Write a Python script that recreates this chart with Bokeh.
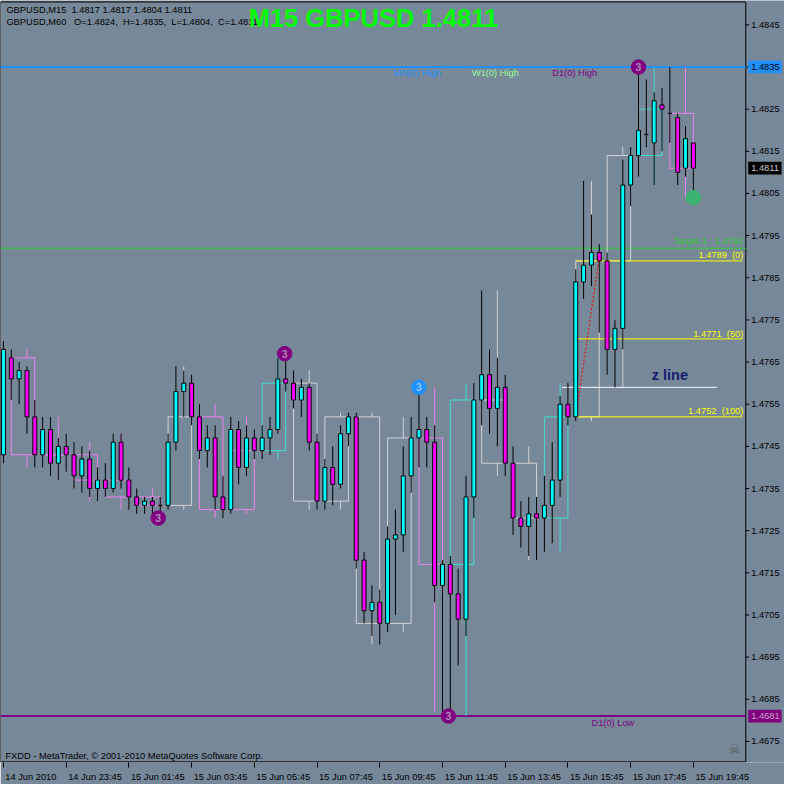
from bokeh.plotting import figure
from bokeh.models import Range1d, LinearAxis, FixedTicker, Label, ColumnDataSource
from bokeh.core.properties import value
from bokeh.embed import file_html
from bokeh.resources import INLINE

# ---------------- data ----------------
# M15 bars, index 0 = 14 Jun 21:45 ... index 88 = 15 Jun 19:45
m15_open = [1.4743, 1.4766, 1.4761, 1.4763, 1.4752, 1.4743, 1.4749, 1.4741, 1.4745, 1.4743,
            1.4738, 1.4742, 1.4735, 1.4737, 1.4735, 1.4746, 1.4737, 1.4733, 1.4731, 1.4732,
            1.4731, 1.4731, 1.4746, 1.4758, 1.4760, 1.4752, 1.4744, 1.4747, 1.4733, 1.4730,
            1.4749, 1.4740, 1.4747, 1.4744, 1.4747, 1.4749, 1.4761, 1.4760, 1.4756, 1.4759,
            1.4746, 1.4732, 1.4740, 1.4736, 1.4748, 1.4752, 1.4718, 1.4706, 1.4708, 1.4703,
            1.4723, 1.4724, 1.4738, 1.4747, 1.4749, 1.4746, 1.4712, 1.4717, 1.4710, 1.4704,
            1.4733, 1.4756, 1.4762, 1.4754, 1.4759, 1.4741, 1.4728, 1.4726, 1.4729, 1.4728,
            1.4731, 1.4737, 1.4755, 1.4752, 1.4784, 1.4788, 1.4791, 1.4789, 1.4768, 1.4773,
            1.4807, 1.4814, 1.4819, 1.4817, 1.4826, 1.4824, 1.4823, 1.4811, 1.4817]
m15_high = [1.4770, 1.4768, 1.4765, 1.4764, 1.4756, 1.4752, 1.4752, 1.4747, 1.4748, 1.4746,
            1.4745, 1.4744, 1.4740, 1.4741, 1.4748, 1.4748, 1.4740, 1.4735, 1.4733, 1.4733,
            1.4733, 1.4748, 1.4764, 1.4763, 1.4762, 1.4755, 1.4750, 1.4750, 1.4738, 1.4752,
            1.4751, 1.4750, 1.4749, 1.4750, 1.4752, 1.4766, 1.4767, 1.4763, 1.4761, 1.4760,
            1.4748, 1.4742, 1.4745, 1.4750, 1.4753, 1.4753, 1.4720, 1.4712, 1.4711, 1.4726,
            1.4730, 1.4745, 1.4752, 1.4759, 1.4752, 1.4750, 1.4718, 1.4719, 1.4716, 1.4738,
            1.4760, 1.4782, 1.4768, 1.4766, 1.4762, 1.4745, 1.4732, 1.4733, 1.4733, 1.4738,
            1.4746, 1.4757, 1.4760, 1.4787, 1.4808, 1.4800, 1.4793, 1.4791, 1.4775, 1.4813,
            1.4816, 1.4835, 1.4832, 1.4829, 1.4830, 1.4835, 1.4824, 1.4821, 1.4817]
m15_low = [1.4741, 1.4756, 1.4755, 1.4748, 1.4740, 1.4740, 1.4738, 1.4737, 1.4739, 1.4735,
           1.4734, 1.4733, 1.4732, 1.4733, 1.4734, 1.4735, 1.4730, 1.4729, 1.4729, 1.4729,
           1.4728, 1.4730, 1.4744, 1.4752, 1.4750, 1.4742, 1.4740, 1.4730, 1.4728, 1.4729,
           1.4736, 1.4738, 1.4742, 1.4742, 1.4743, 1.4748, 1.4758, 1.4754, 1.4752, 1.4744,
           1.4730, 1.4730, 1.4731, 1.4735, 1.4745, 1.4716, 1.4703, 1.4700, 1.4698, 1.4701,
           1.4705, 1.4720, 1.4734, 1.4740, 1.4740, 1.4708, 1.4682, 1.4681, 1.4693, 1.4700,
           1.4728, 1.4750, 1.4748, 1.4745, 1.4738, 1.4724, 1.4721, 1.4719, 1.4718, 1.4720,
           1.4722, 1.4733, 1.4750, 1.4751, 1.4780, 1.4783, 1.4772, 1.4762, 1.4759, 1.4768,
           1.4802, 1.4809, 1.4816, 1.4807, 1.4815, 1.4817, 1.4807, 1.4809, 1.4804]
m15_close = [1.4768, 1.4761, 1.4763, 1.4752, 1.4743, 1.4749, 1.4741, 1.4745, 1.4743, 1.4738,
             1.4742, 1.4735, 1.4737, 1.4735, 1.4746, 1.4737, 1.4733, 1.4731, 1.4732, 1.4731,
             1.4731, 1.4746, 1.4758, 1.4760, 1.4752, 1.4744, 1.4747, 1.4733, 1.4730, 1.4749,
             1.4740, 1.4747, 1.4744, 1.4747, 1.4749, 1.4761, 1.4760, 1.4756, 1.4759, 1.4746,
             1.4732, 1.4740, 1.4736, 1.4748, 1.4752, 1.4718, 1.4706, 1.4708, 1.4703, 1.4723,
             1.4724, 1.4738, 1.4747, 1.4749, 1.4746, 1.4712, 1.4717, 1.4710, 1.4704, 1.4733,
             1.4756, 1.4762, 1.4754, 1.4759, 1.4741, 1.4728, 1.4726, 1.4729, 1.4728, 1.4731,
             1.4737, 1.4755, 1.4752, 1.4784, 1.4788, 1.4791, 1.4789, 1.4768, 1.4773, 1.4807,
             1.4814, 1.4820, 1.4819, 1.4827, 1.4825, 1.4824, 1.4810, 1.4818, 1.4811]

# H1 boxes: first M15 bar of each hour (22:00 ... 19:00) and outline colour
h1_first_bar = [1, 5, 9, 13, 17, 21, 25, 29, 33, 37, 41, 45, 49, 53, 57, 61, 65, 69, 73, 77, 81, 85]
h1_color = ["#EE82EE", "#EE82EE", "#EE82EE", "#EE82EE", "#EE82EE", "#D3D3D3", "#EE82EE", "#EE82EE",
            "#40E0D0", "#D3D3D3", "#D3D3D3", "#D3D3D3", "#D3D3D3", "#EE82EE", "#40E0D0", "#D3D3D3",
            "#D3D3D3", "#40E0D0", "#D3D3D3", "#D3D3D3", "#40E0D0", "#EE82EE"]

tick_bars = [0, 8, 16, 24, 32, 40, 48, 56, 64, 72, 80, 88]
tick_texts = ["14 Jun 2010", "14 Jun 23:45", "15 Jun 01:45", "15 Jun 03:45", "15 Jun 05:45",
              "15 Jun 07:45", "15 Jun 09:45", "15 Jun 11:45", "15 Jun 13:45", "15 Jun 15:45",
              "15 Jun 17:45", "15 Jun 19:45"]
price_ticks = [1.4675, 1.4685, 1.4695, 1.4705, 1.4715, 1.4725, 1.4735, 1.4745, 1.4755,
               1.4765, 1.4775, 1.4785, 1.4795, 1.4805, 1.4815, 1.4825, 1.4835, 1.4845]

high_level = 1.4835      # MN(0), W1(0), D1(0) High
d1_low = 1.4681
target1 = 1.4792
last_close = 1.4811
tag_prices = [1.4835, 1.4811, 1.4681]
tag_texts = ["1.4835", "1.4811", "1.4681"]
tag_fill = ["#1E90FF", "#000000", "#800080"]
tag_text_color = ["#000000", "#C8C8C8", "#C8A8C8"]
fib_levels = [1.4789, 1.47705, 1.4752]
fib_texts = ["1.4789\u00a0\u00a0(0)", "1.4771\u00a0\u00a0(50)", "1.4752\u00a0\u00a0(100)"]
fib_start_bar = 73
fib_from = (73, 1.4752)
fib_to = (76, 1.4790)
z_level = 1.4759
z_from_bar, z_to_bar = 71.25, 91

mark3_bar = [19.75, 35.875, 81, 56.75]
mark3_price = [1.4728, 1.4767, 1.4835, 1.4681]
blue_mark = (53, 1.4759)
green_mark = (88, 1.4804)

# ---------------- geometry: whole 800x800 picture drawn at scale 0.98 ----------------
def K(px):           # picture x -> bar coordinate
    return (px - 3) / 8.0

def P(py):           # picture y -> price
    return 1.4845 - (py - 25) / 43235.0

BG = "#778899"
FONT = "Liberation Sans"
SMALL = "9.3px"
x_left, x_right = K(0), K(800)
chart_right = K(760.5)

p = figure(width=784, height=784, x_range=Range1d(x_left, x_right),
           y_range=Range1d(P(781.63), P(0)), output_backend="svg",
           toolbar_location=None, x_axis_location=None, y_axis_location=None,
           min_border_left=0, min_border_top=0, min_border_right=0, min_border_bottom=18,
           background_fill_color=BG, border_fill_color=BG, outline_line_color=None)
p.xgrid.visible = False
p.ygrid.visible = False

# date axis (labels sit to the right of their tick, as in MetaTrader)
label_pos = [b + (3.5 if i == 0 else 3.6875) for i, b in enumerate(tick_bars)]
xaxis = LinearAxis(ticker=FixedTicker(ticks=label_pos, minor_ticks=tick_bars))
xaxis.major_label_overrides = dict(zip(label_pos, tick_texts))
xaxis.axis_line_color = None
xaxis.major_tick_out = 0
xaxis.major_tick_in = 0
xaxis.minor_tick_out = 5
xaxis.minor_tick_in = 0
xaxis.minor_tick_line_color = "black"
xaxis.major_label_standoff = 4
xaxis.major_label_text_font = FONT
xaxis.major_label_text_font_size = SMALL
xaxis.major_label_text_color = "black"
p.add_layout(xaxis, "below")

# chart border
p.segment(x0=[x_left, x_left, chart_right, x_left], y0=[P(1.5), P(781), P(1.5), P(1.5)],
          x1=[chart_right, chart_right, chart_right, x_left], y1=[P(1.5), P(781), P(781), P(781)],
          line_color="black", line_width=1)

# price scale on the right
p.segment(x0=[chart_right] * len(price_ticks), y0=price_ticks,
          x1=[K(764)] * len(price_ticks), y1=price_ticks, line_color="black", line_width=1)
scale_prices = [t for t in price_ticks if t not in tag_prices]
p.text(x=[K(766)] * len(scale_prices), y=scale_prices, text=["%.4f" % t for t in scale_prices],
       text_color="black", text_font=value(FONT), text_font_size=SMALL,
       text_align="left", text_baseline="middle")
tag_h = 13 / 43235.0
p.quad(left=[K(763)] * 3, right=[K(797)] * 3, top=[t + tag_h / 2 for t in tag_prices],
       bottom=[t - tag_h / 2 for t in tag_prices], fill_color=tag_fill, line_color=None)
p.text(x=[K(766)] * 3, y=tag_prices, text=tag_texts, text_color=tag_text_color,
       text_font=value(FONT), text_font_size=SMALL, text_align="left", text_baseline="middle")

# horizontal levels
p.segment(x0=[x_left] * 3, y0=[target1, d1_low, high_level], x1=[chart_right] * 3,
          y1=[target1, d1_low, high_level], line_color=["#32CD32", "#800080", "#1E90FF"],
          line_width=[1, 2, 2])

# H1 boxes
n = len(m15_open)
hb = dict(left=[], right=[], top=[], bottom=[], color=[], wx=[], hi=[], lo=[])
for g, k0 in enumerate(h1_first_bar):
    ks = [k for k in range(k0, k0 + 4) if k < n]
    o = m15_open[ks[0]]
    c = m15_close[ks[-1]]
    hb["left"].append(k0)
    hb["right"].append(k0 + 3)
    hb["top"].append(max(o, c))
    hb["bottom"].append(min(o, c))
    hb["color"].append(h1_color[g])
    hb["wx"].append(k0 + 2)
    hb["hi"].append(max(m15_high[k] for k in ks))
    hb["lo"].append(min(m15_low[k] for k in ks))
hsrc = ColumnDataSource(hb)
p.quad(left="left", right="right", top="top", bottom="bottom", fill_color=None,
       line_color="color", line_width=1, source=hsrc)
p.segment(x0="wx", y0="top", x1="wx", y1="hi", line_color="color", line_width=1, source=hsrc)
p.segment(x0="wx", y0="bottom", x1="wx", y1="lo", line_color="color", line_width=1, source=hsrc)

# fib levels / z line / red dotted anchor
p.segment(x0=[fib_start_bar] * 3, y0=fib_levels, x1=[K(757)] * 3, y1=fib_levels,
          line_color="#FFFF00", line_width=1)
p.segment(x0=[z_from_bar], y0=[z_level], x1=[z_to_bar], y1=[z_level], line_color="white",
          line_width=1)
p.line(x=[fib_from[0], fib_to[0]], y=[fib_from[1], fib_to[1]], line_color="#FF0000",
       line_dash="2 2", line_width=1)

# M15 candles
src = ColumnDataSource(dict(
    k=list(range(n)), o=m15_open, h=m15_high, l=m15_low, c=m15_close,
    top=[max(a, b) for a, b in zip(m15_open, m15_close)],
    bottom=[min(a, b) for a, b in zip(m15_open, m15_close)],
    fill=["#00FFFF" if c >= o else "#FF00FF" for o, c in zip(m15_open, m15_close)]))
p.segment(x0="k", y0="l", x1="k", y1="h", line_color="black", line_width=1, source=src)
p.vbar(x="k", width=0.5, top="top", bottom="bottom", fill_color="fill",
       line_color="black", line_width=1, source=src)

# signal markers
p.scatter(x=mark3_bar, y=mark3_price, size=14.5, marker="circle", fill_color="#800080",
          line_color="#800080")
p.text(x=mark3_bar, y=mark3_price, text=["3"] * len(mark3_bar), text_color="#B088B8",
       text_font=value(FONT), text_font_size="10.5px", text_font_style="bold",
       text_align="center", text_baseline="middle")
p.scatter(x=[blue_mark[0]], y=[blue_mark[1]], size=14.5, marker="circle", fill_color="#1E90FF",
          line_color="#1E90FF")
p.text(x=[blue_mark[0]], y=[blue_mark[1]], text=["3"], text_color="#8CC4F4",
       text_font=value(FONT), text_font_size="10.5px", text_font_style="bold",
       text_align="center", text_baseline="middle")
p.scatter(x=[green_mark[0]], y=[green_mark[1]], size=14.5, marker="circle", fill_color="#3CB371",
          line_color="#3CB371")

# texts
def lab(x, y, text, color, size=SMALL, align="left", baseline="middle", style="normal",
        font=FONT):
    p.add_layout(Label(x=x, y=y, text=text, text_color=color, text_font=font,
                       text_font_size=size, text_align=align, text_baseline=baseline,
                       text_font_style=style))

NB = "\u00a0"
lab(K(6), P(10), "GBPUSD,M15" + NB * 2 + "1.4817 1.4817 1.4804 1.4811", "black")
lab(K(6), P(22), "GBPUSD,M60" + NB * 3 + "O=1.4824," + NB * 2 + "H=1.4835," + NB * 2 +
    "L=1.4804," + NB * 2 + "C=1.4811", "black")
lab(K(380.5), P(17.5), "M15 GBPUSD 1.4811", "#00FF00", size="25.5px", align="center",
    style="bold")
lab(K(401), P(74), "MN(0) High", "#1E90FF")
lab(K(481), P(74), "W1(0) High", "#98FB98")
lab(K(563), P(74), "D1(0) High", "#800080")
lab(K(603), P(741), "D1(0) Low", "#800080")
lab(K(758), P(247), "Target 1 : 1.4792", "#32CD32", align="right")
for yy, t in zip([261, 342, 421], fib_texts):
    lab(K(758), P(yy), t, "#FFFF00", align="right")
lab(K(683), P(384), "z line", "#191970", size="14.5px", align="center", style="bold")
lab(K(5), P(775), "FXDD - MetaTrader, \u00a9 2001-2010 MetaQuotes Software Corp.", "black")
lab(K(749), P(768), "\u2620", "#5A5A5A", size="13.5px", align="center", font="DejaVu Sans")

open("out.html", "w").write(file_html(p, INLINE))
